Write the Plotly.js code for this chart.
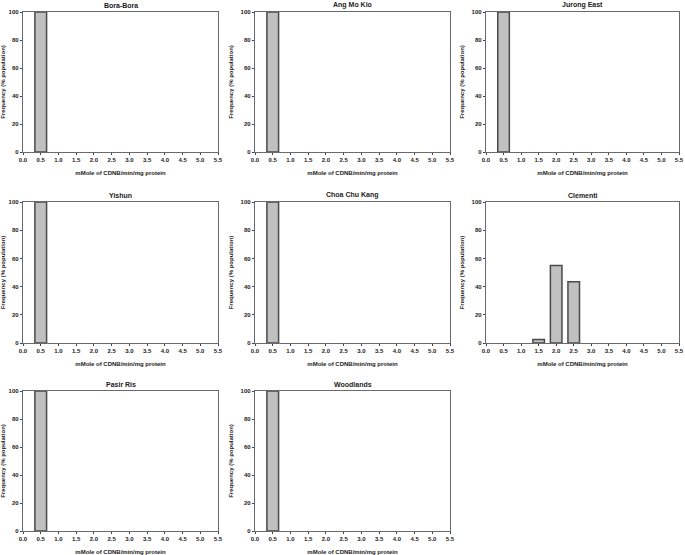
<!DOCTYPE html>
<html>
<head>
<meta charset="utf-8">
<script src="https://cdn.plot.ly/plotly-3.0.1.min.js"></script>
<style>html,body{margin:0;padding:0;background:#fff;}#chart{width:685px;height:555px;}</style>
</head>
<body>
<div id="chart"></div>
<script>
// Data
const sites = ["Bora-Bora", "Ang Mo Kio", "Jurong East", "Yishun", "Choa Chu Kang", "Clementi", "Pasir Ris", "Woodlands"];
const activityBins = [0.5, 1.5, 2.0, 2.5];
const boraBora    = [100, 0, 0, 0];
const angMoKio    = [100, 0, 0, 0];
const jurongEast  = [100, 0, 0, 0];
const yishun      = [100, 0, 0, 0];
const choaChuKang = [100, 0, 0, 0];
const clementi    = [0, 2.5, 55, 43.5];
const pasirRis    = [100, 0, 0, 0];
const woodlands   = [100, 0, 0, 0];
const siteValues = [boraBora, angMoKio, jurongEast, yishun, choaChuKang, clementi, pasirRis, woodlands];
const xTicks = [0, 0.5, 1, 1.5, 2, 2.5, 3, 3.5, 4, 4.5, 5, 5.5];
const xTickText = ["0.0","0.5","1.0","1.5","2.0","2.5","3.0","3.5","4.0","4.5","5.0","5.5"];
const yTicks = [0, 20, 40, 60, 80, 100];
const xTitle = "mMole of CDNB/min/mg protein";
const yTitle = "Frequency (% population)";

const W = 685, H = 555;
const colPx = [[23, 218], [255, 450], [486, 679]];
const rowPx = [[12, 152], [202, 343], [391, 531]];
const font = "Liberation Sans, Arial, sans-serif";

const data = [];
const layout = {
  width: W, height: H,
  margin: {l: 0, r: 0, t: 0, b: 0},
  paper_bgcolor: "#fff", plot_bgcolor: "#fff",
  showlegend: false,
  bargap: 0,
  annotations: []
};

sites.forEach((name, i) => {
  const r = Math.floor(i / 3), c = i % 3;
  const n = i + 1;
  const xa = n === 1 ? "x" : "x" + n;
  const ya = n === 1 ? "y" : "y" + n;
  const vals = siteValues[i];
  const xs = [], ys = [];
  vals.forEach((v, k) => { if (v > 0) { xs.push(activityBins[k]); ys.push(v); } });
  data.push({
    type: "bar", x: xs, y: ys, xaxis: xa, yaxis: ya, width: 0.33,
    marker: {color: "#c0c0c0", line: {color: "#4a4a4a", width: 1.5}},
    hoverinfo: "x+y"
  });
  const xd = [colPx[c][0] / W, colPx[c][1] / W];
  const yd = [1 - rowPx[r][1] / H, 1 - rowPx[r][0] / H];
  const axCommon = {
    showgrid: false, zeroline: false, showline: true, mirror: true,
    linecolor: "#6a6a6a", linewidth: 1.2,
    ticks: "outside", ticklen: 2, tickwidth: 1, tickcolor: "#444",
    tickfont: {family: font, size: 6, color: "#222", weight: "bold"}
  };
  layout["xaxis" + (n === 1 ? "" : n)] = Object.assign({}, axCommon, {
    domain: xd, anchor: ya, range: [0, 5.5], tickvals: xTicks, ticktext: xTickText,
    title: {text: xTitle, font: {family: font, size: 6, color: "#222", weight: "bold"}, standoff: 8},
    fixedrange: true
  });
  layout["yaxis" + (n === 1 ? "" : n)] = Object.assign({}, axCommon, {
    domain: yd, anchor: xa, range: [0, 100], tickvals: yTicks,
    title: {text: yTitle, font: {family: font, size: 6, color: "#222", weight: "bold"}, standoff: 6},
    fixedrange: true
  });
  layout.annotations.push({
    text: "<b>" + name + "</b>", xref: "paper", yref: "paper",
    x: (xd[0] + xd[1]) / 2, y: yd[1], yanchor: "bottom", xanchor: "center", yshift: 1,
    showarrow: false, font: {family: font, size: 7, color: "#222"}
  });
});

Plotly.newPlot("chart", data, layout, {displayModeBar: false, staticPlot: true});
</script>
</body>
</html>
